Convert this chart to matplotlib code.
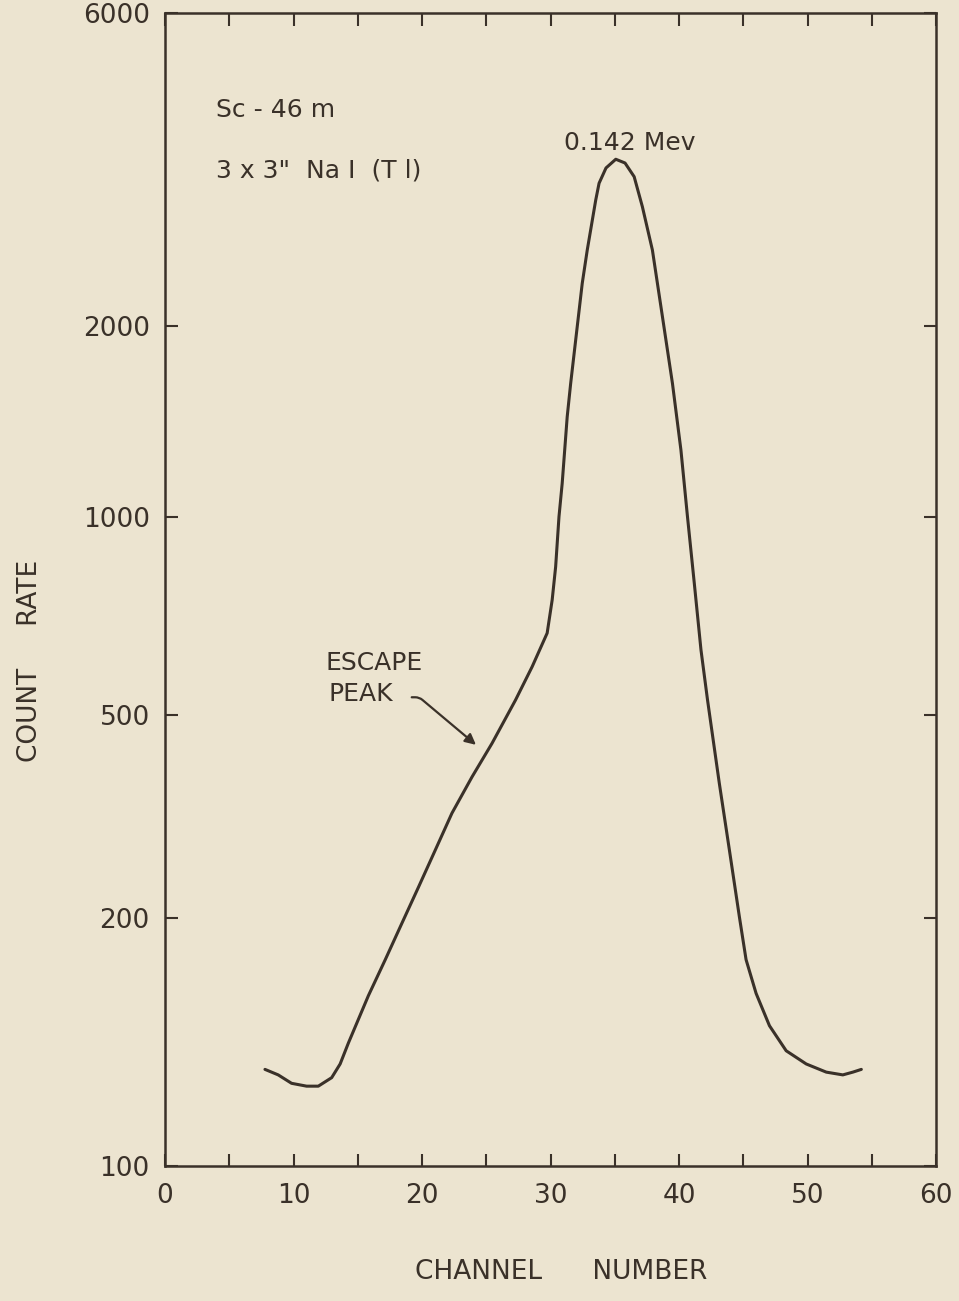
"""Sc-46m gamma spectrum, 3x3" NaI(Tl) - count rate vs channel number."""

import numpy as np
import matplotlib
matplotlib.use("Agg")
import matplotlib.pyplot as plt
from matplotlib.ticker import NullLocator, FixedLocator

# --- data ------------------------------------------------------------------
channel = [7.78, 8.81, 9.85, 11.02, 11.93, 12.97, 13.63, 14.27, 15.83, 17.14,
           18.43, 19.73, 21.04, 22.33, 23.89, 25.45, 27.28, 28.57, 29.74, 30.13,
           30.40, 30.66, 30.91, 31.30, 31.57, 31.96, 32.47, 32.86, 33.52, 33.78,
           34.32, 35.08, 35.80, 36.51, 37.15, 37.93, 38.71, 39.49, 40.15, 40.66,
           41.19, 41.71, 42.22, 43.14, 43.92, 44.70, 45.22, 46.00, 47.04, 48.34,
           49.90, 51.46, 52.75, 53.53, 54.19]
count_rate = [131, 129, 126, 125, 125, 128, 133, 141, 161, 178,
              197, 230, 272, 321, 378, 440, 527, 592, 666, 748,
              840, 1001, 1130, 1439, 1624, 1901, 2323, 2611, 3112, 3301,
              3483, 3591, 3544, 3378, 3040, 2611, 2067, 1624, 1275, 1001,
              793, 628, 527, 367, 272, 201, 178, 162, 148, 138,
              133, 130, 129, 130, 131]

y_tick_values = [100, 200, 500, 1000, 2000, 6000]
y_tick_labels = ["100", "200", "500", "1000", "2000", "6000"]
x_tick_values = [0, 10, 20, 30, 40, 50, 60]
x_minor_values = [5, 15, 25, 35, 45, 55]

# the printed log axis is hand-ruled; tick spacing as drawn (relative units)
axis_ruling = [0, 248, 451, 649, 840, 1153]

INK = "#3a3129"
PAPER = "#ece4d0"

log_ticks = np.log10(y_tick_values)


def fwd(v):
    v = np.log10(np.clip(np.asarray(v, dtype=float), 1e-9, None))
    return np.interp(v, log_ticks, axis_ruling)


def inv(p):
    return 10 ** np.interp(np.asarray(p, dtype=float), axis_ruling, log_ticks)


plt.rcParams["font.family"] = ["DejaVu Sans"]

fig = plt.figure(figsize=(9.59, 13.01), dpi=100, facecolor=PAPER)
ax = fig.add_axes([165 / 959, 135 / 1301, 771 / 959, 1153 / 1301])
ax.set_facecolor(PAPER)

ax.plot(channel, count_rate, color=INK, lw=2.2, solid_capstyle="round")

ax.set_yscale("function", functions=(fwd, inv))
ax.set_ylim(100, 6000)
ax.set_xlim(0, 60)

ax.yaxis.set_major_locator(FixedLocator(y_tick_values))
ax.yaxis.set_minor_locator(NullLocator())
ax.set_yticklabels(y_tick_labels)
ax.set_xticks(x_tick_values)
ax.set_xticks(x_minor_values, minor=True)

for s in ax.spines.values():
    s.set_color(INK)
    s.set_linewidth(1.8)

ax.tick_params(axis="both", which="both", direction="in", length=9, width=1.5,
               color=INK, labelcolor=INK, top=True, right=True, labelsize=19)
ax.tick_params(axis="x", pad=12)
ax.tick_params(axis="y", pad=11)

# labels inside the plot
ax.text(4.0, 4269, "Sc - 46 m", fontsize=18, color=INK, va="center")
ax.text(4.0, 3446, '3 x 3"  Na I  (T l)', fontsize=18, color=INK, va="center")
ax.text(36.15, 3802, "0.142 Mev", fontsize=18, color=INK, ha="center",
        va="center")

ax.text(12.5, 600, "ESCAPE", fontsize=18, color=INK, va="center")
ax.text(12.7, 538, "PEAK", fontsize=18, color=INK, va="center")
ax.annotate("", xy=(24.2, 437), xytext=(19.2, 532),
            arrowprops=dict(arrowstyle="-|>", color=INK, lw=1.6,
                            mutation_scale=16,
                            connectionstyle="angle,angleA=0,angleB=-40,rad=4",
                            shrinkA=0, shrinkB=0))

fig.text(561 / 959, 1 - 1272 / 1301, "CHANNEL      NUMBER", fontsize=19,
         color=INK, ha="center", va="center")
fig.text(30 / 959, 1 - 661 / 1301, "COUNT     RATE", fontsize=19, color=INK,
         ha="center", va="center", rotation=90)

fig.savefig("out.png", dpi=100, facecolor=PAPER)
